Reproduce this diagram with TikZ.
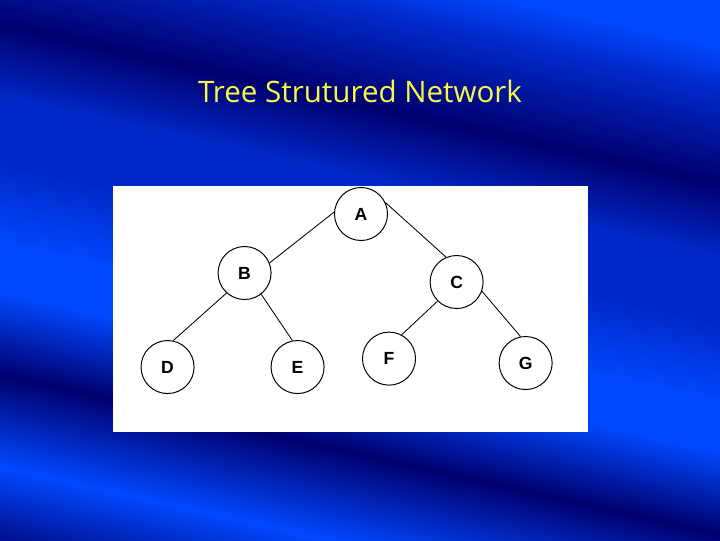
\documentclass[tikz,border=0pt]{standalone}
\usepackage{fontspec}
\usepackage{xcolor}
\usepackage{tikz}
\usetikzlibrary{positioning}
\newfontfamily\titlefont{Open Sans}
\newfontfamily\vtxfont{Liberation Sans}
\definecolor{wavedark}{RGB}{0,0,110}
\definecolor{wavemid}{RGB}{0,40,200}
\definecolor{wavebright}{RGB}{0,72,255}
\definecolor{titleyellow}{RGB}{248,248,70}
\pgfdeclareverticalshading{bgwave}{100bp}{color(0bp)=(wavedark); color(30bp)=(wavedark); color(35bp)=(wavebright); color(40bp)=(wavedark); color(44.5bp)=(wavebright); color(47bp)=(wavebright); color(51.5bp)=(wavemid); color(55bp)=(wavemid); color(59bp)=(wavedark); color(64bp)=(wavemid); color(66.5bp)=(wavebright); color(100bp)=(wavebright)}

\begin{document}
\begin{tikzpicture}[x=0.025cm, y=0.025cm,
    vtx/.style={draw, circle, minimum size=1.325cm, inner sep=0pt, line width=0.7pt,
        font=\vtxfont\fontsize{12.5}{13}\selectfont\bfseries},
    edge/.style={line width=0.6pt}]
        \useasboundingbox (0,0) rectangle (720,540);
        \begin{scope}
            \clip (0,0) rectangle (720,540);
            \shade[shading=bgwave, shading angle=-12.5] (-90,-180) rectangle (810,720);
        \end{scope}
        \fill[white] (113,108) rectangle (588,354);

        \node[anchor=base, text=titleyellow, font=\titlefont\fontsize{21}{24}\selectfont] (title) at (360,437) {Tree Strutured Network};

        \node[vtx] (A) at (361,326) {A};
        \node[vtx, on grid, below left=1.475cm and 2.91cm of A] (B) {B};
        \node[vtx, on grid, below right=1.7cm and 2.39cm of A] (C) {C};
        \node[vtx, on grid, below left=2.35cm and 1.925cm of B] (D) {D};
        \node[vtx, on grid, below right=2.35cm and 1.325cm of B] (E) {E};
        \node[vtx, on grid, below left=1.915cm and 1.69cm of C] (F) {F};
        \node[vtx, on grid, below right=2.025cm and 1.725cm of C] (G) {G};

        \draw[edge] (A.176) -- (B.22);
        \draw[edge] (A.25) -- (C.113);
        \draw[edge] (B.228) -- (D.78);
        \draw[edge] (B.308) -- (E.101);
        \draw[edge] (C.225) -- (F.62);
        \draw[edge] (C.340) -- (G.101);
    \end{tikzpicture}
\end{document}
